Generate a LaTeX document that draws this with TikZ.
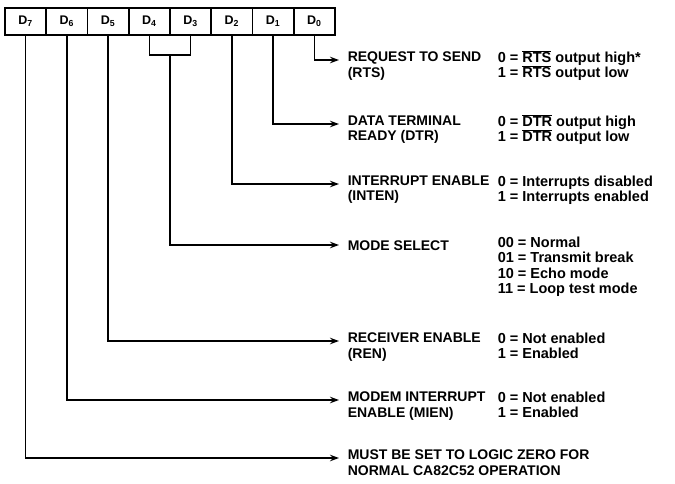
\documentclass[tikz,border=0pt]{standalone}
\usepackage{fontspec}
\setmainfont{Liberation Sans}
\usetikzlibrary{arrows.meta,positioning}
\newcommand{\ovl}[1]{\smash{$\overline{\hbox{#1}}$}}

\begin{document}
\begin{tikzpicture}[x=1pt, y=-1pt, line width=1.6pt,
  bitbox/.style={draw, minimum width=41.25pt, minimum height=27pt, outer sep=0pt, inner sep=0pt, font=\bfseries\fontsize{12.5}{14}\selectfont},
  arr/.style={-{Stealth[length=9pt,width=6.5pt]}},
  lbl/.style={anchor=north west, align=left, inner sep=0pt, font=\bfseries\fontsize{14}{15.5}\selectfont, execute at begin node={\rule{0pt}{14pt}}},
  val/.style={lbl, font=\bfseries\fontsize{14.5}{15.5}\selectfont}]
  \useasboundingbox (0,0) rectangle (675,483);
  % Register bits
  \node[bitbox] (d7) at (25.6,21.5) {D\textsubscript{7}};
  \node[bitbox, right=0pt of d7] (d6) {D\textsubscript{6}};
  \node[bitbox, right=0pt of d6] (d5) {D\textsubscript{5}};
  \node[bitbox, right=0pt of d5] (d4) {D\textsubscript{4}};
  \node[bitbox, right=0pt of d4] (d3) {D\textsubscript{3}};
  \node[bitbox, right=0pt of d3] (d2) {D\textsubscript{2}};
  \node[bitbox, right=0pt of d2] (d1) {D\textsubscript{1}};
  \node[bitbox, right=0pt of d1] (d0) {D\textsubscript{0}};
  % Arrow ends
  \coordinate (rtsin) at (339,60);
  \coordinate (dtrin) at (339,124);
  \coordinate (intenin) at (339,184);
  \coordinate (modein) at (339,245);
  \coordinate (renin) at (339,341);
  \coordinate (mienin) at (339,400);
  \coordinate (zeroin) at (339,458);
  \coordinate (brk) at (170,55);
  % Field names
  \node[lbl] (rts) at (347,51) {REQUEST TO SEND\\(RTS)};
  \node[lbl] (dtr) at (347,115) {DATA TERMINAL\\READY (DTR)};
  \node[lbl] (inten) at (347,175) {INTERRUPT ENABLE\\(INTEN)};
  \node[lbl] (mode) at (347,236) {MODE SELECT};
  \node[lbl] (ren) at (347,332) {RECEIVER ENABLE\\(REN)};
  \node[lbl] (mien) at (347,391) {MODEM INTERRUPT\\ENABLE (MIEN)};
  \node[lbl] (zero) at (347,449) {MUST BE SET TO LOGIC ZERO FOR\\NORMAL CA82C52 OPERATION};
  % Values
  \node[val] (rtsval) at (497,51) {0 = \ovl{RTS} output high*\\1 = \ovl{RTS} output low};
  \node[val] (dtrval) at (497,115) {0 = \ovl{DTR} output high\\1 = \ovl{DTR} output low};
  \node[val] (intenval) at (497,175) {0 = Interrupts disabled\\1 = Interrupts enabled};
  \node[val] (modeval) at (497,236) {00 = Normal\\01 = Transmit break\\10 = Echo mode\\11 = Loop test mode};
  \node[val] (renval) at (497,332) {0 = Not enabled\\1 = Enabled};
  \node[val] (mienval) at (497,391) {0 = Not enabled\\1 = Enabled};
  % Connectors
  \draw[arr] (d0.south) |- (rtsin);
  \draw[arr] (d1.south) |- (dtrin);
  \draw[arr] (d2.south) |- (intenin);
  \draw (d4.south) |- (brk) -| (d3.south);
  \draw[arr] (brk) |- (modein);
  \draw[arr] (d5.south) |- (renin);
  \draw[arr] (d6.south) |- (mienin);
  \draw[arr] (d7.south) |- (zeroin);
\end{tikzpicture}
\end{document}
